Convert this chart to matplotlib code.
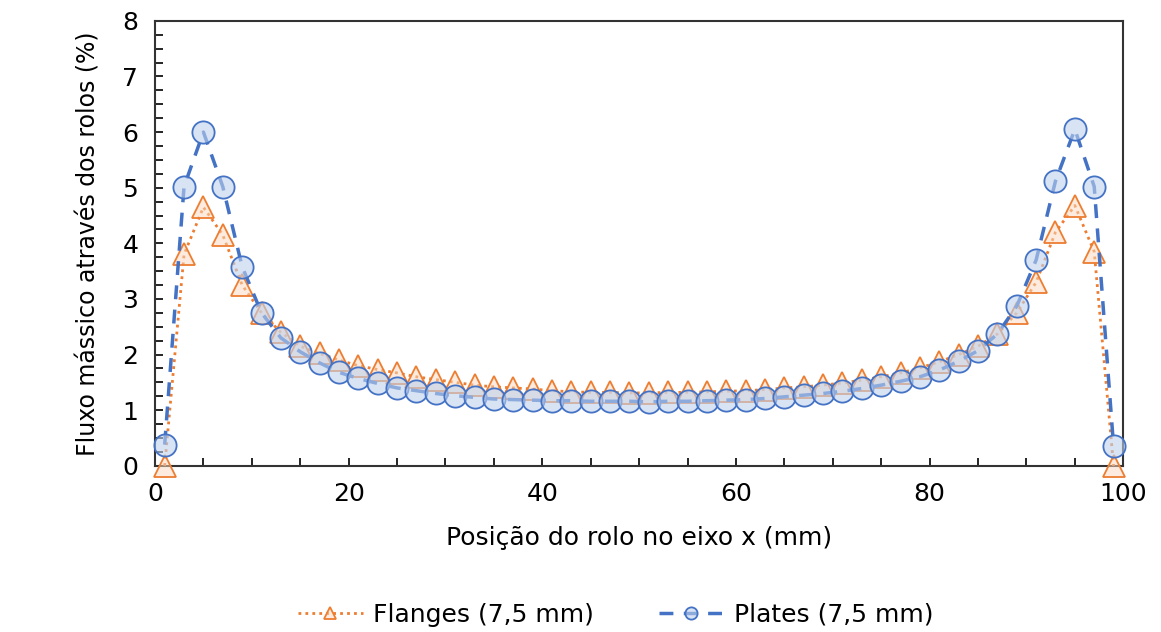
import matplotlib
matplotlib.use("Agg")
import matplotlib.pyplot as plt
from matplotlib.ticker import MultipleLocator

plt.rcParams["font.family"] = ["DejaVu Sans"]

# roll positions along x (mm)
pos = [1, 3, 5, 7, 9, 11, 13, 15, 17, 19, 21, 23, 25, 27, 29, 31, 33, 35, 37, 39,
       41, 43, 45, 47, 49, 51, 53, 55, 57, 59, 61, 63, 65, 67, 69, 71, 73, 75, 77, 79,
       81, 83, 85, 87, 89, 91, 93, 95, 97, 99]

flanges = [0.0, 3.8, 4.65, 4.15, 3.25, 2.75, 2.4, 2.15, 2.02, 1.9, 1.8, 1.73, 1.67, 1.6, 1.55,
           1.5, 1.45, 1.42, 1.4, 1.38, 1.35, 1.33, 1.32, 1.32, 1.31, 1.31, 1.32, 1.32, 1.33, 1.34,
           1.35, 1.37, 1.4, 1.42, 1.45, 1.49, 1.54, 1.6, 1.67, 1.76, 1.87, 2.0, 2.15, 2.37, 2.75,
           3.3, 4.2, 4.68, 3.85, 0.0]

plates = [0.38, 5.02, 6.0, 5.02, 3.58, 2.75, 2.3, 2.05, 1.85, 1.68, 1.57, 1.48, 1.4, 1.35, 1.3,
          1.26, 1.23, 1.2, 1.19, 1.18, 1.17, 1.17, 1.16, 1.16, 1.16, 1.15, 1.16, 1.16, 1.17, 1.18,
          1.19, 1.21, 1.24, 1.27, 1.3, 1.34, 1.39, 1.45, 1.52, 1.6, 1.72, 1.88, 2.07, 2.37, 2.87,
          3.7, 5.12, 6.05, 5.02, 0.35]

fig = plt.figure(figsize=(11.61, 6.32), dpi=100)
ax = fig.add_axes([0.1335, 0.263, 0.834, 0.704])

ax.plot(pos, flanges, color="#ED7D31", ls=(0, (1, 1.5)), lw=2.0,
        marker="^", ms=16, mfc=(0.98, 0.85, 0.75, 0.5), mec="#ED7D31", mew=1.3,
        label="Flanges (7,5 mm)", clip_on=False, zorder=3)
ax.plot(pos, plates, color="#4472C4", ls=(0, (4, 3)), lw=2.5,
        marker="o", ms=16, mfc=(0.75, 0.82, 0.93, 0.6), mec="#4472C4", mew=1.3,
        label="Plates (7,5 mm)", clip_on=False, zorder=4)

ax.set_xlim(0, 100)
ax.set_ylim(0, 8)
ax.xaxis.set_major_locator(MultipleLocator(20))
ax.xaxis.set_minor_locator(MultipleLocator(5))
ax.yaxis.set_major_locator(MultipleLocator(1))
ax.yaxis.set_minor_locator(MultipleLocator(0.25))
ax.tick_params(which="both", direction="in", top=False, right=False, labelsize=18, width=1.2)
ax.tick_params(which="major", length=6, pad=12)
ax.tick_params(which="minor", length=6)
for s in ax.spines.values():
    s.set_linewidth(1.5)
    s.set_color("#333333")

ax.set_xlabel("Posição do rolo no eixo x (mm)", fontsize=18, labelpad=14)
ax.set_ylabel("Fluxo mássico através dos rolos (%)", fontsize=17, labelpad=16)

leg = fig.legend(loc="center", bbox_to_anchor=(0.53, 0.027), ncol=2, frameon=False,
                 fontsize=18, markerscale=0.55, handlelength=2.6, columnspacing=2.6,
                 handletextpad=0.4)

fig.savefig("out.png", dpi=100)
